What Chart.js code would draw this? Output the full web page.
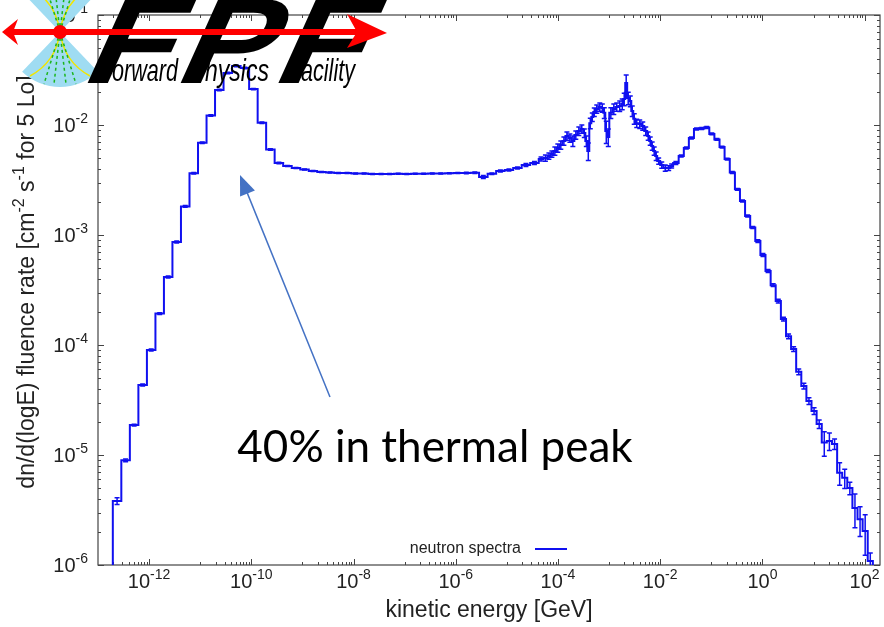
<!DOCTYPE html>
<html>
<head>
<meta charset="utf-8">
<script src="https://cdn.jsdelivr.net/npm/chart.js@4.4.1/dist/chart.umd.min.js"></script>
<style>
  html, body { margin: 0; padding: 0; background: #fff; }
</style>
</head>
<body>
<canvas id="spectrum" width="884" height="627"></canvas>
<script>
// ---- data (energy in GeV, left bin edges) ----
// thermal + epithermal groups
const lowEdges = [1.95e-13, 2.86e-13, 4.2e-13, 6.17e-13, 9.06e-13,
  1.33e-12, 1.95e-12, 2.86e-12, 4.2e-12, 6.17e-12, 9.06e-12,
  1.33e-11, 1.95e-11, 2.86e-11, 4.2e-11, 6.17e-11, 9.06e-11,
  1.33e-10, 1.95e-10, 2.86e-10, 4.2e-10, 6.17e-10, 9.06e-10,
  1.33e-9, 1.95e-9, 2.86e-9, 4.2e-9, 6.17e-9, 9.06e-9,
  1.33e-8, 1.95e-8, 2.86e-8, 4.2e-8, 6.17e-8, 9.06e-8,
  1.33e-7, 1.95e-7, 2.86e-7, 4.2e-7, 6.17e-7, 9.06e-7,
  1.33e-6, 1.95e-6, 2.86e-6, 4.2e-6, 6.17e-6, 9.06e-6,
  1.33e-5, 1.95e-5, 2.86e-5];
const lowFlux = [3.82e-6, 8.95e-6, 1.87e-5, 4.33e-5, 9.0e-5,
  1.93e-4, 4.15e-4, 8.63e-4, 1.82e-3, 3.64e-3, 6.9e-3,
  1.22e-2, 2.08e-2, 2.97e-2, 3.44e-2, 3.3e-2, 2.12e-2,
  1.05e-2, 6.0e-3, 4.52e-3, 4.24e-3, 4.06e-3, 3.94e-3,
  3.82e-3, 3.74e-3, 3.7e-3, 3.66e-3, 3.66e-3, 3.62e-3,
  3.62e-3, 3.59e-3, 3.59e-3, 3.58e-3, 3.6e-3, 3.58e-3,
  3.6e-3, 3.6e-3, 3.62e-3, 3.62e-3, 3.64e-3, 3.66e-3,
  3.66e-3, 3.68e-3, 3.37e-3, 3.6e-3, 3.82e-3, 3.9e-3,
  4.06e-3, 4.33e-3, 4.52e-3];
const lowErr = [0.07, 0.03, 0.02, 0.02, 0.02,
  0.02, 0.02, 0.02, 0.02, 0.015, 0.015,
  0.015, 0.015, 0.015, 0.015, 0.015, 0.015,
  0.015, 0.015, 0.015, 0.01, 0.01, 0.01,
  0.01, 0.01, 0.01, 0.01, 0.01, 0.01,
  0.01, 0.01, 0.01, 0.01, 0.01, 0.01,
  0.01, 0.01, 0.01, 0.01, 0.01, 0.01,
  0.015, 0.015, 0.03, 0.015, 0.02, 0.02,
  0.02, 0.03, 0.03];

// resonance / evaporation region (fine groups)
const resEdges = [4.2e-5, 5.19e-5, 6.21e-5, 7.11e-5, 8.13e-5, 9.31e-5, 1.06e-4, 1.22e-4, 1.4e-4, 1.6e-4,
  1.83e-4, 2.09e-4, 2.39e-4, 2.74e-4, 3.13e-4, 3.43e-4, 3.75e-4, 4.1e-4, 4.49e-4, 4.91e-4,
  5.37e-4, 6.15e-4, 7.05e-4, 7.71e-4, 8.43e-4, 9.22e-4, 1.01e-3, 1.16e-3, 1.32e-3, 1.51e-3,
  1.73e-3, 1.89e-3, 2.07e-3, 2.26e-3, 2.48e-3, 2.72e-3, 2.97e-3, 3.25e-3, 3.72e-3, 4.26e-3,
  4.88e-3, 5.57e-3, 6.1e-3, 6.67e-3, 7.29e-3, 7.98e-3, 8.73e-3, 1.0e-2, 1.15e-2, 1.37e-2,
  1.57e-2, 1.79e-2];
const resFlux = [4.91e-3, 5.01e-3, 5.22e-3, 5.45e-3, 5.81e-3, 6.18e-3, 6.58e-3, 7.16e-3, 7.94e-3, 7.62e-3,
  7.16e-3, 8.11e-3, 8.81e-3, 9.2e-3, 8.45e-3, 7.16e-3, 5.81e-3, 1.04e-2, 1.18e-2, 1.31e-2,
  1.4e-2, 1.46e-2, 1.43e-2, 1.29e-2, 8.81e-3, 7.78e-3, 1.29e-2, 1.4e-2, 1.46e-2, 1.49e-2,
  1.55e-2, 1.72e-2, 2.41e-2, 1.76e-2, 1.65e-2, 1.34e-2, 1.14e-2, 1.04e-2, 1.02e-2, 9.8e-3,
  8.81e-3, 7.94e-3, 7.16e-3, 6.44e-3, 5.81e-3, 5.22e-3, 4.71e-3, 4.33e-3, 4.06e-3, 4.06e-3,
  4.24e-3, 4.52e-3];
const resErr = [0.04, 0.065, 0.065, 0.065, 0.087, 0.087, 0.087, 0.087, 0.087, 0.087,
  0.11, 0.087, 0.087, 0.087, 0.087, 0.11, 0.18, 0.11, 0.087, 0.087,
  0.087, 0.087, 0.087, 0.11, 0.23, 0.18, 0.11, 0.11, 0.087, 0.11,
  0.11, 0.13, 0.18, 0.13, 0.11, 0.11, 0.11, 0.087, 0.087, 0.087,
  0.087, 0.087, 0.087, 0.087, 0.087, 0.087, 0.065, 0.065, 0.065, 0.05,
  0.04, 0.03];

// high energy part (10 bins per decade)
const highEdges = [0.023, 0.029, 0.0364, 0.0458, 0.0577, 0.0726, 0.0914, 0.115, 0.145, 0.182,
  0.23, 0.29, 0.364, 0.458, 0.577, 0.726, 0.914, 1.15, 1.45, 1.82,
  2.3, 2.9, 3.64, 4.58, 5.77, 7.26, 9.14, 11.5, 14.5, 18.2,
  23, 29, 36.4, 45.8, 57.7, 72.6, 91.4, 115];
const highFlux = [5.22e-3, 6.18e-3, 7.62e-3, 9.2e-3, 9.3e-3, 9.5e-3, 8.3e-3, 7.4e-3, 6.3e-3, 4.9e-3,
  3.7e-3, 2.6e-3, 2.04e-3, 1.49e-3, 1.17e-3, 8.8e-4, 6.58e-4, 4.71e-4, 3.5e-4, 2.51e-4,
  1.72e-4, 1.2e-4, 9.2e-5, 5.7e-5, 4.24e-5, 3.1e-5, 2.51e-5, 1.91e-5, 1.3e-5, 1.34e-5,
  1.26e-5, 6.9e-6, 6.2e-6, 5.0e-6, 3.3e-6, 2.6e-6, 2.04e-6, 1.09e-6];
const highErr = [0.02, 0.02, 0.02, 0.02, 0.02, 0.02, 0.02, 0.02, 0.02, 0.02,
  0.02, 0.02, 0.02, 0.02, 0.02, 0.03, 0.03, 0.03, 0.03, 0.04,
  0.04, 0.05, 0.05, 0.06, 0.06, 0.07, 0.07, 0.09, 0.25, 0.18,
  0.11, 0.23, 0.2, 0.13, 0.34, 0.3, 0.4, 0.18];
const lastEdge = 145;   // upper edge of the last filled bin

// axis ticks (labelled decades)
const xTickValues = [1e-12, 1e-10, 1e-8, 1e-6, 1e-4, 1e-2, 1e0, 1e2];
const xTickExps = ['-12', '-10', '-8', '-6', '-4', '-2', '0', '2'];
const yTickValues = [1e-6, 1e-5, 1e-4, 1e-3, 1e-2, 1e-1];
const yTickExps = ['-6', '-5', '-4', '-3', '-2', '-1'];

const seriesLabel = 'neutron spectra';
const xTitle = 'kinetic energy [GeV]';
const noteText = '40% in thermal peak';

// ---- build the stepped histogram ----
const edges = lowEdges.concat(resEdges, highEdges);
const flux = lowFlux.concat(resFlux, highFlux);
const relErr = lowErr.concat(resErr, highErr);

const points = [{ x: 1e-13, y: 1e-9 }];
edges.forEach((e, i) => points.push({ x: e, y: flux[i] }));
points.push({ x: lastEdge, y: 1e-9 });

const LINE = '#1010f0';
const AXIS = '#444';
const TEXT = '#222';
const FAMILY = '"Liberation Sans", Arial, sans-serif';

// text with superscript pieces: [{t, sup}]
function partsWidth(ctx, parts, size) {
    let w = 0;
    parts.forEach(p => {
        ctx.font = (p.sup ? Math.round(size * 0.7) : size) + 'px ' + FAMILY;
        w += ctx.measureText(p.t).width;
    });
    return w;
}
function drawParts(ctx, parts, x, y, align, size) {
    const w = partsWidth(ctx, parts, size);
    let cx = align === 'center' ? x - w / 2 : (align === 'right' ? x - w : x);
    ctx.textAlign = 'left';
    ctx.textBaseline = 'alphabetic';
    parts.forEach(p => {
        ctx.font = (p.sup ? Math.round(size * 0.7) : size) + 'px ' + FAMILY;
        ctx.fillText(p.t, cx, p.sup ? y - size * 0.45 : y);
        cx += ctx.measureText(p.t).width;
    });
}

const framePlugin = {
    id: 'gnuFrame',
    beforeDatasetsDraw(chart) {
        const { ctx, chartArea: a, scales: { x, y } } = chart;
        ctx.save();
        ctx.strokeStyle = AXIS;
        ctx.lineWidth = 1.2;
        ctx.strokeRect(a.left, a.top, a.right - a.left, a.bottom - a.top);

        ctx.lineWidth = 1;
        ctx.beginPath();
        // x ticks: major every two decades, minor 1..9 x odd decades
        xTickValues.forEach(v => {
            const px = Math.round(x.getPixelForValue(v)) + 0.5;
            ctx.moveTo(px, a.bottom); ctx.lineTo(px, a.bottom - 6);
            ctx.moveTo(px, a.top); ctx.lineTo(px, a.top + 6);
        });
        for (let k = -13; k <= 1; k += 2) {
            for (let m = 1; m <= 9; m++) {
                const v = m * Math.pow(10, k);
                if (v <= x.min || v >= x.max) continue;
                const px = Math.round(x.getPixelForValue(v)) + 0.5;
                ctx.moveTo(px, a.bottom); ctx.lineTo(px, a.bottom - 3);
                ctx.moveTo(px, a.top); ctx.lineTo(px, a.top + 3);
            }
        }
        // y ticks
        yTickValues.forEach(v => {
            const py = Math.round(y.getPixelForValue(v)) + 0.5;
            ctx.moveTo(a.left, py); ctx.lineTo(a.left + 6, py);
            ctx.moveTo(a.right, py); ctx.lineTo(a.right - 6, py);
        });
        for (let k = -6; k <= -2; k++) {
            for (let m = 2; m <= 9; m++) {
                const py = Math.round(y.getPixelForValue(m * Math.pow(10, k))) + 0.5;
                ctx.moveTo(a.left, py); ctx.lineTo(a.left + 3, py);
                ctx.moveTo(a.right, py); ctx.lineTo(a.right - 3, py);
            }
        }
        ctx.stroke();

        // tick labels
        ctx.fillStyle = TEXT;
        xTickValues.forEach((v, i) => {
            drawParts(ctx, [{ t: '10' }, { t: xTickExps[i], sup: true }], x.getPixelForValue(v), a.bottom + 23, 'center', 20);
        });
        yTickValues.forEach((v, i) => {
            drawParts(ctx, [{ t: '10' }, { t: yTickExps[i], sup: true }], a.left - 10, y.getPixelForValue(v) + 7, 'right', 20);
        });

        // axis titles
        drawParts(ctx, [{ t: xTitle }], (a.left + a.right) / 2, 617, 'center', 23);
        ctx.save();
        ctx.translate(34, (a.top + a.bottom) / 2 - 8);
        ctx.rotate(-Math.PI / 2);
        drawParts(ctx, [{ t: 'dn/d(logE) fluence rate [cm' }, { t: '-2', sup: true }, { t: ' s' },
            { t: '-1', sup: true }, { t: ' for 5 Lo]' }], 0, 0, 'center', 23);
        ctx.restore();

        // legend: text then line sample
        ctx.font = '16px ' + FAMILY;
        ctx.textAlign = 'right';
        ctx.textBaseline = 'middle';
        ctx.fillText(seriesLabel, 521, a.bottom - 16);
        ctx.strokeStyle = LINE;
        ctx.lineWidth = 2;
        ctx.beginPath();
        ctx.moveTo(535, a.bottom - 16); ctx.lineTo(567, a.bottom - 16);
        ctx.stroke();
        ctx.restore();
    },
    afterDatasetsDraw(chart) {
        // error bars at bin centres
        const { ctx, chartArea: a, scales: { x, y } } = chart;
        ctx.save();
        ctx.beginPath();
        ctx.rect(a.left, a.top, a.right - a.left, a.bottom - a.top);
        ctx.clip();
        ctx.strokeStyle = LINE;
        ctx.lineWidth = 1.5;
        ctx.beginPath();
        edges.forEach((e, i) => {
            const r = relErr[i];
            if (!r) return;
            const next = i + 1 < edges.length ? edges[i + 1] : lastEdge;
            const px = x.getPixelForValue(Math.sqrt(e * next));
            const lo = y.getPixelForValue(flux[i] * (1 - r));
            const hi = y.getPixelForValue(flux[i] * (1 + r));
            ctx.moveTo(px, lo); ctx.lineTo(px, hi);
            ctx.moveTo(px - 2.5, lo); ctx.lineTo(px + 2.5, lo);
            ctx.moveTo(px - 2.5, hi); ctx.lineTo(px + 2.5, hi);
        });
        ctx.stroke();
        ctx.restore();
    },
    afterDraw(chart) {
        const { ctx, scales: { x, y } } = chart;
        ctx.save();
        // annotation arrow and text
        const tx = x.getPixelForValue(3.46e-9), ty = y.getPixelForValue(3.37e-5);
        const hx = x.getPixelForValue(6.0e-11), hy = y.getPixelForValue(3.51e-3);
        const ang = Math.atan2(hy - ty, hx - tx);
        ctx.strokeStyle = '#4472c4';
        ctx.fillStyle = '#4472c4';
        ctx.lineWidth = 1.5;
        ctx.beginPath();
        ctx.moveTo(tx, ty);
        ctx.lineTo(hx - 16 * Math.cos(ang), hy - 16 * Math.sin(ang));
        ctx.stroke();
        ctx.beginPath();
        ctx.moveTo(hx, hy);
        ctx.lineTo(hx - 20 * Math.cos(ang) + 8 * Math.sin(ang), hy - 20 * Math.sin(ang) - 8 * Math.cos(ang));
        ctx.lineTo(hx - 20 * Math.cos(ang) - 8 * Math.sin(ang), hy - 20 * Math.sin(ang) + 8 * Math.cos(ang));
        ctx.closePath();
        ctx.fill();

        ctx.fillStyle = '#000';
        ctx.font = '44px Lato, "Open Sans", sans-serif';
        ctx.textAlign = 'center';
        ctx.textBaseline = 'alphabetic';
        ctx.fillText(noteText, x.getPixelForValue(3.93e-7), y.getPixelForValue(8.63e-6));

        drawLogo(ctx);
        ctx.restore();
    }
};

// FPF logo overlay in the top-left corner
function drawLogo(ctx) {
    const ax = 60, ay = 32, R = 55, half = 0.76;
    ctx.save();
    ctx.fillStyle = '#9fdcf2';
    [Math.PI / 2, -Math.PI / 2].forEach(dir => {
        ctx.beginPath();
        ctx.moveTo(ax, ay);
        ctx.arc(ax, ay, R, dir - half, dir + half);
        ctx.closePath();
        ctx.fill();
    });
    ctx.strokeStyle = '#f2e600';
    ctx.lineWidth = 1.5;
    [-1, 1].forEach(s => [-1, 1].forEach(d => {
        ctx.beginPath();
        ctx.moveTo(ax, ay);
        ctx.quadraticCurveTo(ax + s * 4, ay + d * 30, ax + s * 30, ay + d * 44);
        ctx.stroke();
    }));
    ctx.strokeStyle = '#1cb51c';
    ctx.setLineDash([3, 3]);
    [-1, 1].forEach(s => [-1, 1].forEach(d => {
        [6, 16].forEach(off => {
            ctx.beginPath();
            ctx.moveTo(ax, ay);
            ctx.lineTo(ax + s * off, ay + d * 52);
            ctx.stroke();
        });
    }));
    ctx.setLineDash([]);

    // big slanted letters
    ctx.fillStyle = '#000';
    ctx.font = 'bold 122px ' + FAMILY;
    ctx.textAlign = 'left';
    ctx.textBaseline = 'alphabetic';
    ctx.save();
    ctx.transform(1.15, 0, -0.45, 1, 0.45 * 83, 0);
    ctx.fillText('F', 68, 83);
    ctx.fillText('P', 149, 83);
    ctx.fillText('F', 234, 83);
    ctx.restore();
    ctx.font = 'italic 32px ' + FAMILY;
    ctx.fillText('orward', 112, 81, 66);
    ctx.fillText('hysics', 205, 81, 64);
    ctx.fillText('acility', 301, 81, 54);

    // red double arrow and dot
    ctx.fillStyle = '#ff0000';
    ctx.fillRect(12, 29, 345, 6);
    ctx.beginPath();
    ctx.moveTo(2, 32); ctx.lineTo(18, 19); ctx.lineTo(13, 32); ctx.lineTo(18, 45);
    ctx.closePath(); ctx.fill();
    ctx.beginPath();
    ctx.moveTo(387, 33); ctx.lineTo(347, 14); ctx.lineTo(357, 32); ctx.lineTo(347, 48);
    ctx.closePath(); ctx.fill();
    ctx.beginPath();
    ctx.arc(ax, ay, 7, 0, Math.PI * 2);
    ctx.fill();
    ctx.restore();
}

new Chart(document.getElementById('spectrum'), {
    type: 'line',
    data: {
        datasets: [{
            label: seriesLabel,
            data: points,
            borderColor: LINE,
            borderWidth: 2,
            pointRadius: 0,
            stepped: true,
            fill: false,
            clip: 0
        }]
    },
    options: {
        responsive: false,
        animation: false,
        devicePixelRatio: 1,
        layout: { padding: { left: 0, right: 4, top: 15, bottom: 0 } },
        plugins: { legend: { display: false }, tooltip: { enabled: false } },
        scales: {
            x: {
                type: 'logarithmic',
                min: 1e-13,
                max: 200,
                grid: { display: false },
                border: { display: false },
                ticks: { display: false },
                afterFit: s => { s.height = 62; }
            },
            y: {
                type: 'logarithmic',
                min: 1e-6,
                max: 0.1,
                grid: { display: false },
                border: { display: false },
                ticks: { display: false },
                afterFit: s => { s.width = 98; }
            }
        }
    },
    plugins: [framePlugin]
});
</script>
</body>
</html>
